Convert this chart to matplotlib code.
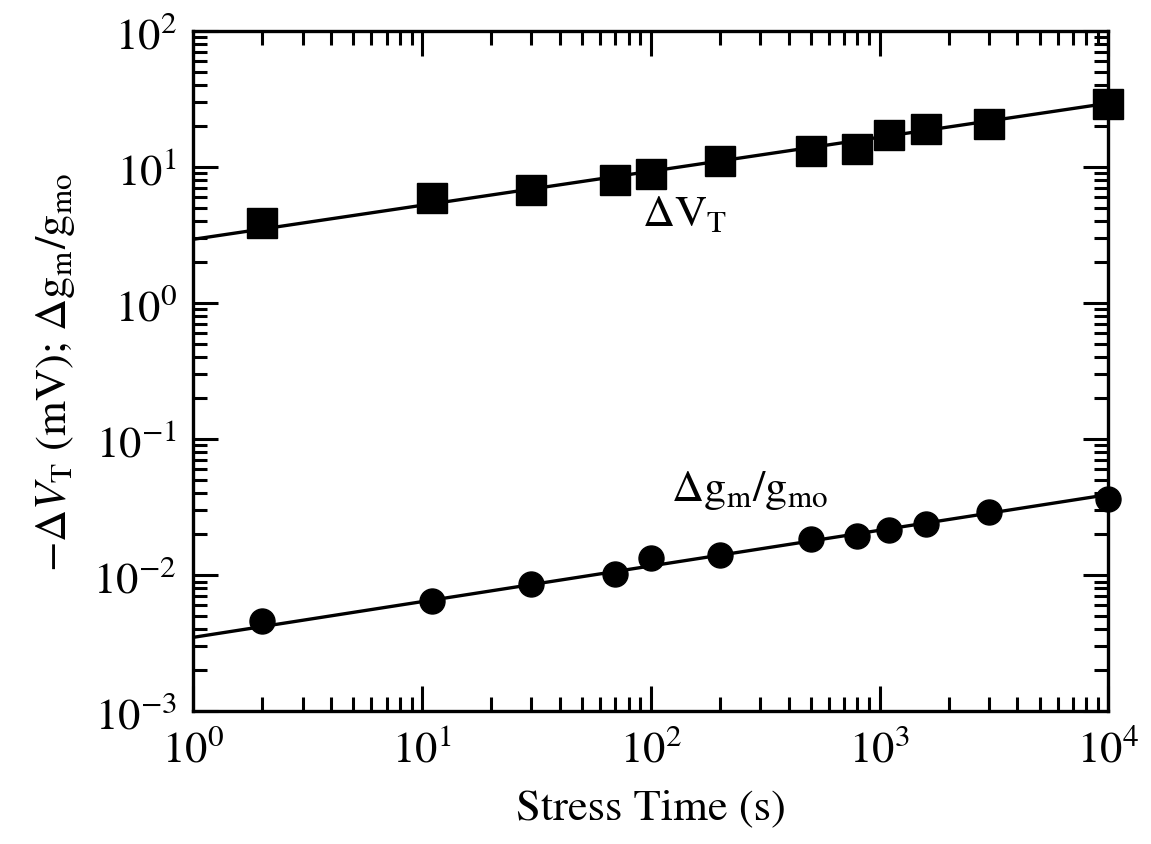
import matplotlib
matplotlib.use("Agg")
import matplotlib.pyplot as plt
from matplotlib.ticker import LogLocator, NullFormatter

plt.rcParams['font.family'] = ['STIXGeneral', 'DejaVu Serif']
plt.rcParams['mathtext.fontset'] = 'stix'

# stress time (s)
stress_time = [2, 11, 30, 70, 100, 200, 500, 800, 1100, 1600, 3000, 10000]
# threshold voltage shift (mV)
delta_vt = [3.9, 5.9, 6.8, 8.0, 8.9, 11.1, 13.1, 13.6, 17.2, 19.0, 20.7, 29.0]
# transconductance degradation
delta_gm = [0.0046, 0.0065, 0.0086, 0.0102, 0.0133, 0.0140, 0.0184, 0.0194,
            0.0214, 0.0237, 0.0290, 0.0362]

# power-law fit lines, endpoints
fit_t = [1, 10000]
fit_vt = [2.95, 29.5]
fit_gm = [0.0035, 0.0392]

fig = plt.figure( figsize=(11.51, 8.45), dpi=100 )
ax = fig.add_axes( [0.168, 0.157, 0.795, 0.805] )

ax.plot( fit_t, fit_vt, color='black', lw=2.4 )
ax.plot( fit_t, fit_gm, color='black', lw=2.4 )
ax.plot( stress_time, delta_vt, 's', color='black', ms=21, clip_on=False )
ax.plot( stress_time, delta_gm, 'o', color='black', ms=18, clip_on=False )

ax.set_xscale( 'log' )
ax.set_yscale( 'log' )
ax.set_xlim( 1, 1e4 )
ax.set_ylim( 1e-3, 1e2 )

ax.xaxis.set_minor_locator( LogLocator( base=10, subs=range(2, 10), numticks=20 ) )
ax.yaxis.set_minor_locator( LogLocator( base=10, subs=range(2, 10), numticks=20 ) )
ax.xaxis.set_minor_formatter( NullFormatter() )
ax.yaxis.set_minor_formatter( NullFormatter() )

ax.tick_params( which='both', direction='in', top=True, right=True, width=2.2 )
ax.tick_params( which='major', length=18, labelsize=32, pad=12 )
ax.tick_params( which='minor', length=10 )
for spine in ax.spines.values():
    spine.set_linewidth( 2.4 )

ax.text( 140, 4.5, r'$\Delta$V$_\mathrm{T}$', fontsize=32, ha='center', va='center' )
ax.text( 270, 0.043, r'$\Delta$g$_\mathrm{m}$/g$_\mathrm{mo}$', fontsize=32,
         ha='center', va='center' )

ax.set_xlabel( 'Stress Time (s)', fontsize=32, labelpad=14 )
ax.set_ylabel( r'$-\Delta V_\mathrm{T}$ (mV); $\Delta$g$_\mathrm{m}$/g$_\mathrm{mo}$',
               fontsize=32, labelpad=12 )

fig.savefig( 'out.png', dpi=100 )
